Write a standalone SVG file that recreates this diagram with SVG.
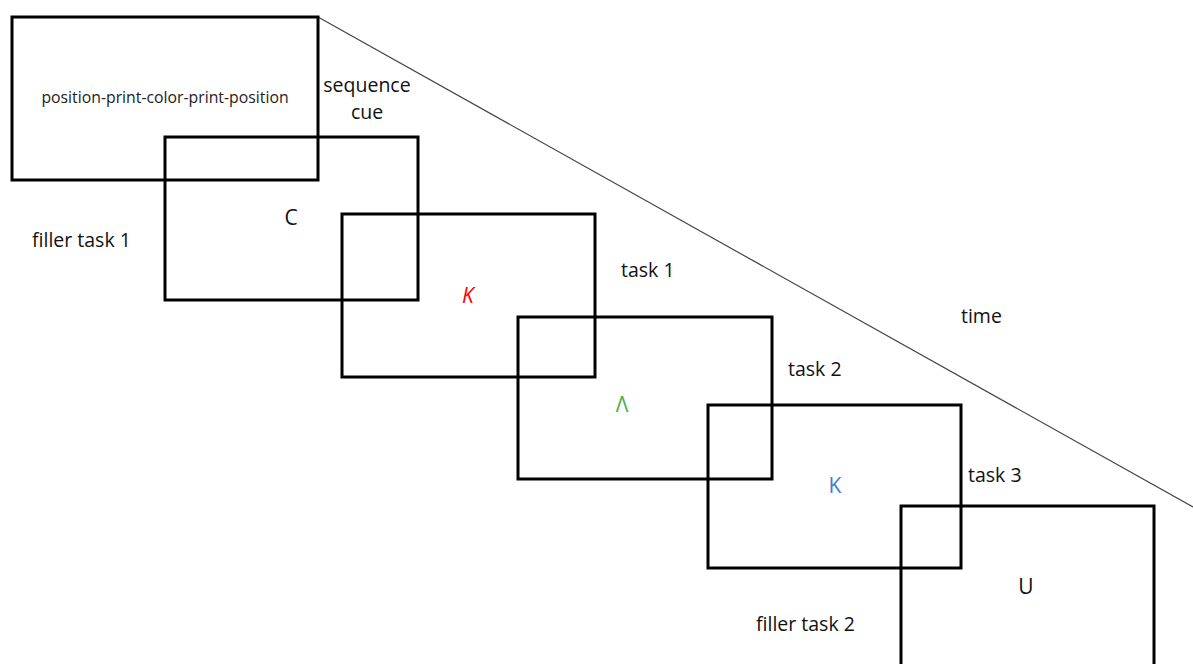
<svg xmlns="http://www.w3.org/2000/svg" width="1193" height="664" viewBox="0 0 1193 664">
  <style>
    .frame { fill: none; stroke: #000; stroke-width: 3; }
    .lbl { font-family: "Open Sans", "Liberation Sans", sans-serif; font-size: 19.5px; fill: #111; }
    .stim { font-family: "Open Sans", "Liberation Sans", sans-serif; font-size: 21px; text-anchor: middle; }
    .axis { stroke: #444; stroke-width: 1.2; fill: none; }
  </style>
  <rect width="1193" height="664" fill="#fff"/>

  <!-- time axis -->
  <g id="connectors">
    <line class="axis" x1="318" y1="17" x2="1193" y2="507"/>
  </g>
  <text class="lbl" x="961" y="323">time</text>

  <!-- screen sequence -->
  <g id="cue-screen">
    <rect class="frame" x="12" y="17" width="306" height="163"/>
    <text x="165" y="103" text-anchor="middle" font-family="Open Sans, Liberation Sans, sans-serif" font-size="15.8" fill="#222">position-print-color-print-position</text>
    <text class="lbl" x="367" y="92" text-anchor="middle">sequence</text>
    <text class="lbl" x="367" y="119" text-anchor="middle">cue</text>
  </g>

  <g id="filler-screen-1">
    <rect class="frame" x="165" y="137" width="253" height="163"/>
    <text class="stim" x="291" y="225" fill="#111">C</text>
    <text class="lbl" x="32" y="247">filler task 1</text>
  </g>

  <g id="task-screen-1">
    <rect class="frame" x="342" y="214" width="253" height="163"/>
    <text class="stim" x="468" y="303" fill="#ff0000" font-style="italic">K</text>
    <text class="lbl" x="621" y="277">task 1</text>
  </g>

  <g id="task-screen-2">
    <rect class="frame" x="518" y="317" width="254" height="162"/>
    <text class="stim" x="622" y="412" fill="#4cb050">Λ</text>
    <text class="lbl" x="788" y="376">task 2</text>
  </g>

  <g id="task-screen-3">
    <rect class="frame" x="708" y="405" width="253" height="163"/>
    <text class="stim" x="835" y="493" fill="#3a7fd0">K</text>
    <text class="lbl" x="968" y="482">task 3</text>
  </g>

  <g id="filler-screen-2">
    <rect class="frame" x="901" y="506" width="253" height="170"/>
    <text class="stim" x="1026" y="594" fill="#111">U</text>
    <text class="lbl" x="756" y="631">filler task 2</text>
  </g>
</svg>
